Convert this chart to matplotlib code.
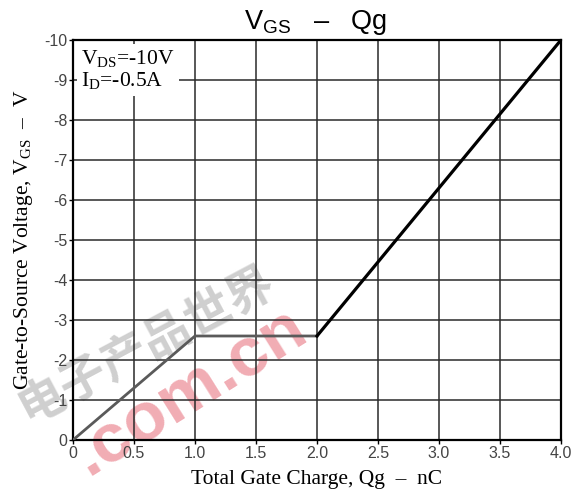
import matplotlib
matplotlib.use("Agg")
import matplotlib.pyplot as plt

# gate charge curve
qg = [0.0, 1.0, 2.0]
vgs = [0.0, -2.6, -2.6]
qg_rise = [2.0, 4.0]
vgs_rise = [-2.6, -10.0]

x_ticks = [0, 0.5, 1.0, 1.5, 2.0, 2.5, 3.0, 3.5, 4.0]
x_labels = ["0", "0.5", "1.0", "1.5", "2.0", "2.5", "3.0", "3.5", "4.0"]
y_ticks = [0, -1, -2, -3, -4, -5, -6, -7, -8, -9, -10]

serif = "Liberation Serif"
sans = "Liberation Sans"

plt.rcParams["mathtext.fontset"] = "custom"
plt.rcParams["mathtext.rm"] = serif
plt.rcParams["mathtext.sf"] = sans

fig = plt.figure(figsize=(5.82, 4.93), dpi=100)
ax = fig.add_axes([0.1254, 0.1075, 0.8385, 0.8114])

ax.set_xlim(0, 4.0)
ax.set_ylim(0, -10)
ax.set_xticks(x_ticks)
ax.set_xticklabels(x_labels, family=sans, fontsize=11.5, color="#444444")
ax.set_yticks(y_ticks)
ax.set_yticklabels([str(v) for v in y_ticks], family=sans, fontsize=11.5, color="#444444")
ax.tick_params(length=3, width=1, pad=1)
ax.grid(True, color="#2a2a2a", linewidth=1.1)
for s in ax.spines.values():
    s.set_linewidth(1.6)

# watermark
ax.text(0.15, 0.24, "电子产品世界", transform=ax.transAxes, rotation=28,
        family=["Noto Sans CJK SC", "DejaVu Sans"], fontsize=34, fontweight="bold",
        color="#888888", alpha=0.4, ha="center", va="center", zorder=1)
ax.text(0.24, 0.12, ".com.cn", transform=ax.transAxes, rotation=32,
        family=sans, fontsize=50, fontweight="bold",
        color="#e04858", alpha=0.45, ha="center", va="center", zorder=1)

ax.plot(qg, vgs, color="#5a5a5a", linewidth=2.0, zorder=3)
ax.plot(qg_rise, vgs_rise, color="black", linewidth=2.3, zorder=3)

ax.text(0.017, 0.98, "V$_{\\rm DS}$=-10V\nI$_{\\rm D}$=-0.5A", transform=ax.transAxes,
        family=serif, fontsize=15.5, va="top", ha="left", linespacing=1.05,
        bbox=dict(facecolor="white", edgecolor="none", pad=3), zorder=4)

fig.text(0.543, 0.955, "$\\mathsf{V}_{\\mathsf{GS}}$   –   Qg", family=sans, fontsize=19.5,
         ha="center", va="center")
ax.set_xlabel("Total Gate Charge, Qg  –  nC", family=serif, fontsize=15.5, labelpad=7)
ax.set_ylabel("Gate-to-Source Voltage, V$_{\\rm GS}$  –  V", family=serif, fontsize=15.5,
              labelpad=7)

fig.savefig("out.png", dpi=100)
